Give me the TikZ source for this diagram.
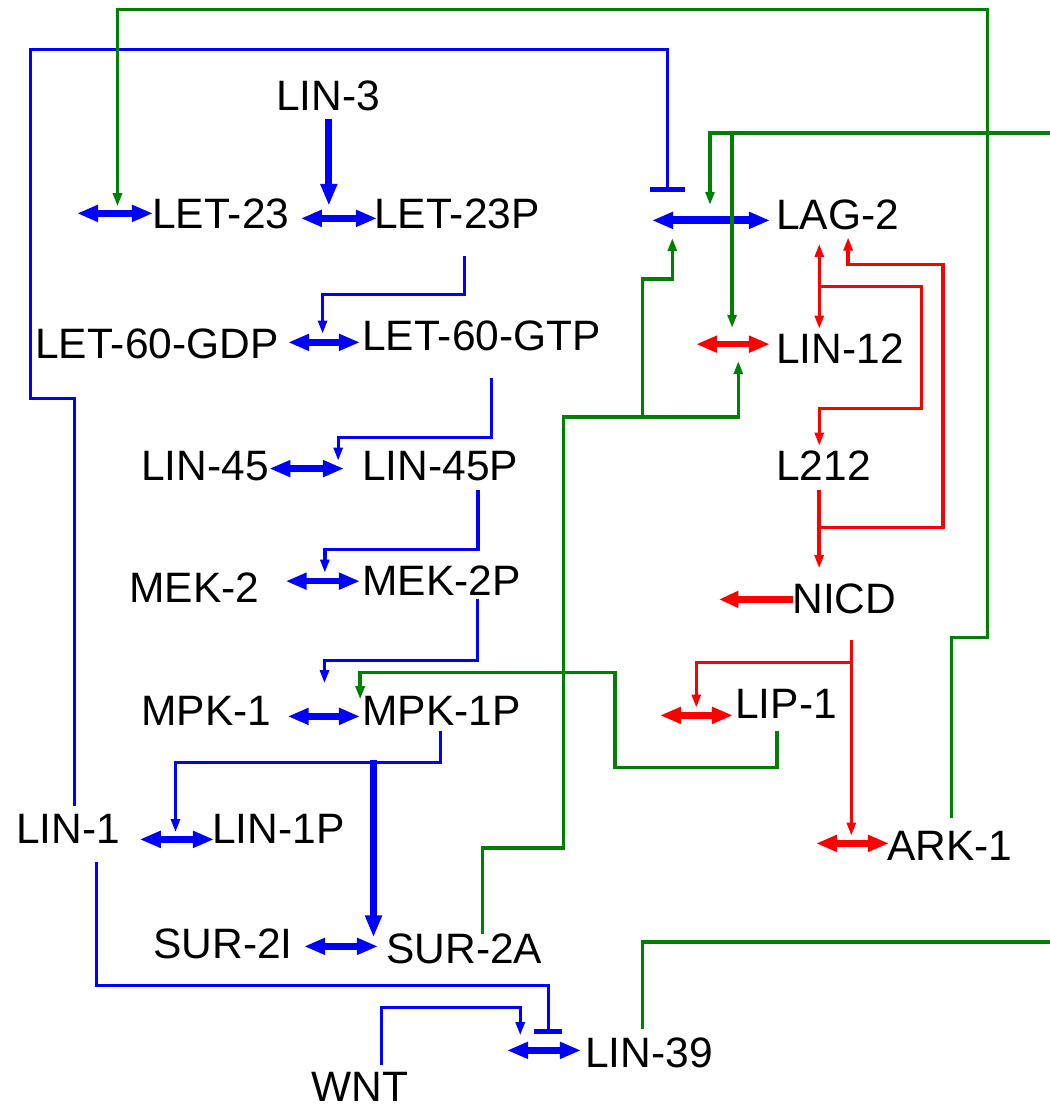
\documentclass[tikz,border=0pt]{standalone}
\usepackage{fontspec}
\setmainfont{Liberation Sans}
\definecolor{actgreen}{RGB}{0,128,0}
\usetikzlibrary{arrows.meta, positioning}

\begin{document}
\begin{tikzpicture}[
  x=0.02cm, y=-0.02cm,
  spec/.style={inner sep=0pt, anchor=base west, font=\fontsize{24.2}{29}\selectfont},
  rev/.style={line width=3.6pt, {Triangle[length=12pt,width=9pt]}-{Triangle[length=12pt,width=9pt]}},
  cat/.style={line width=1.9pt, -{Triangle[length=7.5pt,width=5pt]}},
  dcat/.style={line width=1.9pt, {Triangle[length=7.5pt,width=5pt]}-{Triangle[length=7.5pt,width=5pt]}},
  strong/.style={line width=4pt, -{Triangle[length=12.5pt,width=9pt]}},
  inh/.style={line width=1.9pt, -{Bar[width=#1,line width=2.8pt]}},
  wire/.style={line width=1.9pt}
]
  \useasboundingbox (0,0) rectangle (1050,1107);

  \node[spec] (lin3) at (276,110) {LIN-3};
  \node[spec] (let23) at (152,228) {LET-23};
  \node[spec] (let23p) at (374,228) {LET-23P};
  \node[spec] (lag2) at (776,229) {LAG-2};
  \node[spec] (let60gdp) at (35,358) {LET-60-GDP};
  \node[spec] (let60gtp) at (362,350) {LET-60-GTP};
  \node[spec] (lin12) at (776,363) {LIN-12};
  \node[spec] (lin45) at (141,480) {LIN-45};
  \node[spec] (lin45p) at (362,480) {LIN-45P};
  \node[spec] (l212) at (776,480) {L212};
  \node[spec] (mek2) at (129,602) {MEK-2};
  \node[spec] (mek2p) at (362,595) {MEK-2P};
  \node[spec] (nicd) at (792,613) {NICD};
  \node[spec] (lip1) at (735,718) {LIP-1};
  \node[spec] (mpk1) at (141,725) {MPK-1};
  \node[spec] (mpk1p) at (362,725) {MPK-1P};
  \node[spec] (lin1) at (16,843) {LIN-1};
  \node[spec] (lin1p) at (212,843) {LIN-1P};
  \node[spec] (ark1) at (887,860) {ARK-1};
  \node[spec] (sur2i) at (153,958) {SUR-2I};
  \node[spec] (sur2a) at (386,963) {SUR-2A};
  \node[spec] (lin39) at (585,1067) {LIN-39};
  \node[spec] (wnt) at (311,1101) {WNT};

  \coordinate (edgetop) at (1050,133);
  \coordinate (edgebot) at (1050,942);

  \draw[rev, blue] ([shift={(-75,0)}]let23.west) -- ([shift={(1,0)}]let23.west);
  \draw[rev, blue] ([shift={(11,5)}]let23.east) -- ([shift={(3,5)}]let23p.west);
  \draw[rev, blue, line width=4.6pt] ([shift={(-124,6)}]lag2.west) -- ([shift={(-6,6)}]lag2.west);
  \draw[rev, blue] ([shift={(9,-1)}]let60gdp.east) -- ([shift={(-2,7)}]let60gtp.west);
  \draw[rev, red] ([shift={(-80,-4)}]lin12.west) -- ([shift={(-6,-4)}]lin12.west);
  \draw[rev, blue] ([shift={(0,3)}]lin45.east) -- ([shift={(-18,3)}]lin45p.west);
  \draw[rev, blue] ([shift={(26,-6)}]mek2.east) -- ([shift={(-2,1)}]mek2p.west);
  \draw[red, line width=3.8pt, -{Triangle[length=11pt,width=9pt]}] ([shift={(1,1)}]nicd.west) -- ++(-74,0);
  \draw[rev, red] ([shift={(-75,12)}]lip1.west) -- ([shift={(-2,12)}]lip1.west);
  \draw[rev, blue] ([shift={(16,6)}]mpk1.east) -- ([shift={(-2,6)}]mpk1p.west);
  \draw[rev, blue] ([shift={(19,11)}]lin1.east) -- ([shift={(2,11)}]lin1p.west);
  \draw[rev, red] ([shift={(-71,-2)}]ark1.west) -- ([shift={(2,-2)}]ark1.west);
  \draw[rev, blue] ([shift={(11,3)}]sur2i.east) -- ([shift={(-8,-2)}]sur2a.west);
  \draw[rev, blue] ([shift={(-78,-2)}]lin39.west) -- ([shift={(-4,-2)}]lin39.west);

  \draw[strong, blue] ([shift={(0.5,8)}]lin3.south) -- ++(0,87);
  \draw[cat, blue] ([shift={(7.5,27)}]let23p.south) |- ++(-142,39) -- ++(0,39);
  \draw[cat, blue] ([shift={(9.5,27)}]let60gtp.south) |- ++(-153,60) -- ++(0,23);
  \draw[cat, blue] ([shift={(37.5,9)}]lin45p.south) |- ++(-153,60) -- ++(0,23);
  \draw[cat, blue] ([shift={(36,4)}]mek2p.south) |- ++(-153,61) -- ++(0,23);
  \draw[cat, blue] ([shift={(-1,6)}]mpk1p.south) |- ++(-265,31) -- ++(0,70);
  \draw[strong, blue] ([shift={(-68,35)}]mpk1p.south) -- ++(0,177);
  \draw[cat, blue] ([shift={(21.5,-6)}]wnt.north) |- ++(139,-58) -- ++(0,28);
  \draw[inh=16pt, blue] ([shift={(28,19)}]lin1.south) |- ++(452,123) -- ++(0,49);
  \draw[inh=20pt, blue] ([shift={(6,-7)}]lin1.north) |- ++(-44,-408) |- ++(637,-349) -- ++(0,143);

  \draw[cat, actgreen] ([shift={(1.5,-12)}]ark1.north) |- ++(36,-181) |- ++(-870,-628) -- ++(0,197);
  \draw[cat, actgreen] ([shift={(-9,13)}]lip1.south) |- ++(-162,36) |- ++(-255,-95) -- ++(0,27);
  \draw[cat, actgreen] ([shift={(18,1)}]sur2a.north) |- ++(81,-86) |- ++(79,-431) coordinate (gj) -- ++(96,0) -- ++(0,-56);
  \draw[cat, actgreen] (gj) |- ++(30,-138) -- ++(0,-41);
  \draw[cat, actgreen] (edgetop) -- coordinate[pos=0.935] (gk) ++(-340,0) -- ++(0,72);
  \draw[cat, actgreen] (gk) -- ++(0,195);
  \draw[wire, actgreen] ([shift={(-6.5,-8)}]lin39.north) |- (edgebot);

  \draw[dcat, red] ([shift={(-18.5,14)}]lag2.south) -- coordinate[pos=0.506] (rj) ++(0,85);
  \draw[cat, red] (rj) -- ++(102,0) |- ++(-102,122) -- ++(0,37);
  \draw[cat, red] ([shift={(-4.5,10)}]l212.south) -- coordinate[pos=0.474] (rk) ++(0,78);
  \draw[cat, red] (rk) -| ++(124,-263) -| ++(-95,-27);
  \draw[cat, red] ([shift={(7,26)}]nicd.south) -- coordinate[pos=0.117] (rn) ++(0,196);
  \draw[cat, red] (rn) -| ++(-155,45);
\end{tikzpicture}
\end{document}
